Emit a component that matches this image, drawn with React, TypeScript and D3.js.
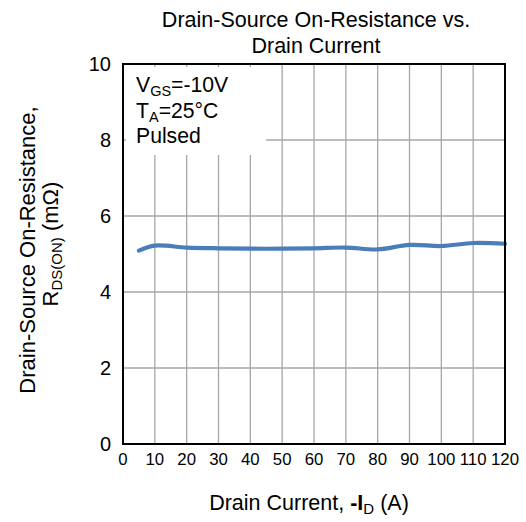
import React from "react";
import * as d3 from "d3";

const current = [5, 10, 20, 30, 40, 50, 60, 70, 80, 90, 100, 110, 120];
const resistance = [5.09, 5.22, 5.17, 5.15, 5.14, 5.14, 5.15, 5.17, 5.12, 5.24, 5.21, 5.29, 5.27];
const xTicks = [0, 10, 20, 30, 40, 50, 60, 70, 80, 90, 100, 110, 120];
const yTicks = [0, 2, 4, 6, 8, 10];

const W = 526;
const H = 522;
const left = 123;
const right = 505;
const top = 64;
const bottom = 444;
const FONT = "'Liberation Sans', Arial, sans-serif";

export default function App() {
  const x = d3.scaleLinear().domain([0, 120]).range([left, right]);
  const y = d3.scaleLinear().domain([0, 10]).range([bottom, top]);
  const pts: [number, number][] = current.map((c, i) => [c, resistance[i]]);
  const line = d3
    .line<[number, number]>()
    .x((d) => x(d[0]))
    .y((d) => y(d[1]))
    .curve(d3.curveCatmullRom.alpha(0.5));

  return (
    <svg
      width={W}
      height={H}
      style={{ position: "absolute", left: 0, top: 0, background: "#fff" }}
      fontFamily={FONT}
    >
      <rect x={0} y={0} width={W} height={H} fill="#fff" />
      {/* title */}
      <text x={316} y={27} fontSize={21.5} textAnchor="middle" fill="#000">
        Drain-Source On-Resistance vs.
      </text>
      <text x={316} y={53} fontSize={21.5} textAnchor="middle" fill="#000">
        Drain Current
      </text>

      {/* grid */}
      {yTicks
        .filter((t) => t > 0 && t < 10)
        .map((t) => (
          <line key={"gy" + t} x1={left} x2={right} y1={y(t)} y2={y(t)} stroke="#a6a6a6" strokeWidth={1.3} />
        ))}
      {xTicks
        .filter((t) => t > 0 && t < 120)
        .map((t) => (
          <line key={"gx" + t} x1={x(t)} x2={x(t)} y1={top} y2={bottom} stroke="#a6a6a6" strokeWidth={1.3} />
        ))}

      {/* legend box */}
      <rect x={126} y={67} width={140} height={88} fill="#fff" />
      <text x={136} y={92} fontSize={21.2} fill="#000">
        V<tspan fontSize={14.5} dy={4}>GS</tspan>
        <tspan dy={-4}>=-10V</tspan>
      </text>
      <text x={136} y={118} fontSize={21.2} fill="#000">
        T<tspan fontSize={14.5} dy={4}>A</tspan>
        <tspan dy={-4}>=25°C</tspan>
      </text>
      <text x={136} y={143} fontSize={21.2} fill="#000">
        Pulsed
      </text>

      {/* data line */}
      <path d={line(pts) || ""} fill="none" stroke="#4a7ebb" strokeWidth={4.2} strokeLinecap="round" />

      {/* plot border */}
      <rect x={left} y={top} width={right - left} height={bottom - top} fill="none" stroke="#000" strokeWidth={2} />

      {/* y tick labels */}
      {yTicks.map((t) => (
        <text key={"yl" + t} x={111} y={y(t) + 7} fontSize={20} textAnchor="end" fill="#000">
          {t}
        </text>
      ))}
      {/* x tick labels */}
      {xTicks.map((t) => (
        <text key={"xl" + t} x={x(t)} y={465} fontSize={16.8} textAnchor="middle" fill="#000">
          {t}
        </text>
      ))}

      {/* y axis title */}
      <g transform="translate(35,250) rotate(-90)">
        <text x={0} y={0} fontSize={22} textAnchor="middle" fill="#000">
          Drain-Source On-Resistance,
        </text>
      </g>
      <g transform="translate(58,244) rotate(-90)">
        <text x={0} y={0} fontSize={22} textAnchor="middle" fill="#000">
          R<tspan fontSize={15} dy={4}>DS(ON)</tspan>
          <tspan dy={-4}> (mΩ)</tspan>
        </text>
      </g>

      {/* x axis title */}
      <text x={309} y={510} fontSize={21.5} textAnchor="middle" fill="#000">
        Drain Current, <tspan fontWeight="bold">-I</tspan>
        <tspan fontSize={15} dy={4}>D</tspan>
        <tspan dy={-4}> (A)</tspan>
      </text>
    </svg>
  );
}
